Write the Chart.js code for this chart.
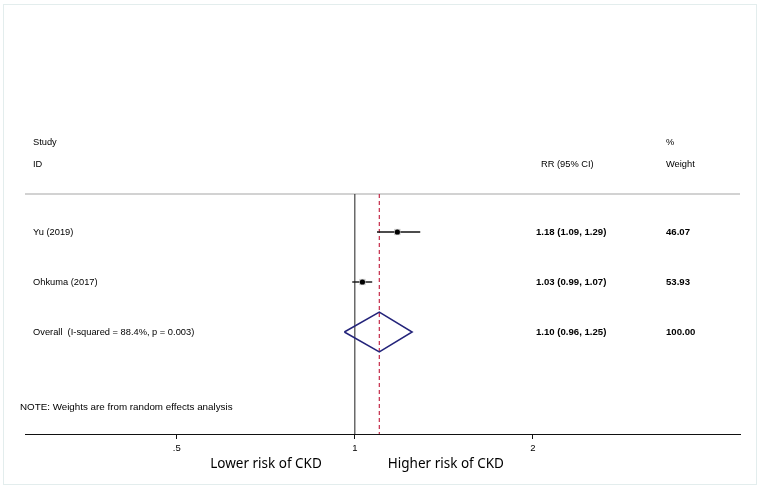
<!DOCTYPE html>
<html>
<head>
<meta charset="utf-8">
<script src="https://cdn.jsdelivr.net/npm/chart.js@4.4.1/dist/chart.umd.min.js"></script>
<style>
  html, body { margin: 0; padding: 0; background: #fff; }
  #wrap { position: relative; width: 760px; height: 488px; }
  #frame { position: absolute; left: 3px; top: 4px; right: 3px; bottom: 3px;
           border: 1px solid #e3eded; pointer-events: none; }
</style>
</head>
<body>
<div id="wrap">
  <canvas id="forest" width="760" height="488"></canvas>
  <div id="frame"></div>
</div>
<script>
// study rows
const studies = ['Yu (2019)', 'Ohkuma (2017)'];
const rr      = [1.18, 1.03];
const ciLow   = [1.09, 0.99];
const ciHigh  = [1.29, 1.07];
const ciText  = ['1.18 (1.09, 1.29)', '1.03 (0.99, 1.07)'];
const weights = ['46.07', '53.93'];

// pooled estimate
const overallLabel  = 'Overall  (I-squared = 88.4%, p = 0.003)';
const overallRR     = 1.10;
const overallLow    = 0.96;
const overallHigh   = 1.25;
const overallText   = '1.10 (0.96, 1.25)';
const overallWeight = '100.00';

// axis
const tickValues = [0.5, 1, 2];
const tickLabels = ['.5', '1', '2'];

// row layout (y units, top to bottom)
const studyRows  = studies.map((s, i) => i + 1);
const overallRow = studies.length + 1;
const headRow1 = -0.8, headRow2 = -0.36, dividerRow = 0.24, noteRow = 4.5;
const yMin = -2, yMax = 5.04;
const xMin = 0.277, xMax = 4.478;

const datasets = [];

// point estimates
datasets.push({
  data: rr.map((v, i) => ({ x: v, y: studyRows[i] })),
  showLine: false, pointStyle: 'circle', pointRadius: 2.6,
  pointBackgroundColor: '#000', pointBorderWidth: 0, order: 0
});
// weight boxes
datasets.push({
  data: rr.map((v, i) => ({ x: v, y: studyRows[i] })),
  showLine: false, pointStyle: 'rect', pointRadius: 4.4,
  pointBackgroundColor: '#c4c4c4', pointBorderWidth: 0, order: 1
});
// confidence intervals
studies.forEach((s, i) => {
  datasets.push({
    data: [{ x: ciLow[i], y: studyRows[i] }, { x: ciHigh[i], y: studyRows[i] }],
    showLine: true, borderColor: '#111', borderWidth: 1.4, pointRadius: 0, order: 2
  });
});
// overall diamond
datasets.push({
  data: [
    { x: overallLow, y: overallRow },
    { x: overallRR, y: overallRow - 0.4 },
    { x: overallHigh, y: overallRow },
    { x: overallRR, y: overallRow + 0.4 },
    { x: overallLow, y: overallRow }
  ],
  showLine: true, borderColor: '#23237a', borderWidth: 1.5, pointRadius: 0,
  tension: 0, order: 2
});
// null line
datasets.push({
  data: [{ x: 1, y: dividerRow }, { x: 1, y: yMax }],
  showLine: true, borderColor: '#333', borderWidth: 1.1, pointRadius: 0, order: 3
});
// overall effect line
datasets.push({
  data: [{ x: overallRR, y: dividerRow }, { x: overallRR, y: yMax }],
  showLine: true, borderColor: '#c42a48', borderWidth: 1.2, borderDash: [4, 3],
  pointRadius: 0, order: 3
});
// header divider
datasets.push({
  data: [{ x: xMin, y: dividerRow }, { x: xMax, y: dividerRow }],
  showLine: true, borderColor: '#d2d2d2', borderWidth: 2, pointRadius: 0, order: 4
});

const LEFT_X = 33, CI_X = 536, RRHEAD_X = 541, W_X = 666;

const tablePlugin = {
  id: 'forestTable',
  afterDraw(chart) {
    const ctx = chart.ctx;
    const ys = chart.scales.y, xs = chart.scales.x;
    const py = v => ys.getPixelForValue(v);
    ctx.save();
    ctx.fillStyle = '#000';
    ctx.textBaseline = 'middle';
    ctx.textAlign = 'left';

    ctx.font = '9.3px "Liberation Sans", Arial, sans-serif';
    ctx.fillText('Study', LEFT_X, py(headRow1));
    ctx.fillText('ID', LEFT_X, py(headRow2));
    ctx.fillText('RR (95% CI)', RRHEAD_X, py(headRow2));
    ctx.fillText('%', W_X, py(headRow1));
    ctx.fillText('Weight', W_X, py(headRow2));

    studies.forEach((s, i) => ctx.fillText(s, LEFT_X, py(studyRows[i])));
    ctx.fillText(overallLabel, LEFT_X, py(overallRow));

    ctx.font = 'bold 9.6px "Liberation Sans", Arial, sans-serif';
    ciText.forEach((t, i) => ctx.fillText(t, CI_X, py(studyRows[i])));
    weights.forEach((t, i) => ctx.fillText(t, W_X, py(studyRows[i])));
    ctx.fillText(overallText, CI_X, py(overallRow));
    ctx.fillText(overallWeight, W_X, py(overallRow));

    ctx.font = '9.8px "Liberation Sans", Arial, sans-serif';
    ctx.fillText('NOTE: Weights are from random effects analysis', 20, py(noteRow));

    // direction labels either side of the null line
    const x1 = xs.getPixelForValue(1);
    ctx.font = '13.5px "Noto Sans", "Open Sans", sans-serif';
    ctx.textAlign = 'right';
    ctx.fillText('Lower risk of CKD', x1 - 33, 464);
    ctx.textAlign = 'left';
    ctx.fillText('Higher risk of CKD', x1 + 33, 464);
    ctx.restore();
  }
};

new Chart(document.getElementById('forest'), {
  type: 'scatter',
  data: { datasets },
  plugins: [tablePlugin],
  options: {
    responsive: false,
    animation: false,
    layout: { padding: { left: 25, right: 20, top: 82, bottom: 0 } },
    plugins: { legend: { display: false }, tooltip: { enabled: false } },
    scales: {
      x: {
        type: 'logarithmic',
        min: xMin, max: xMax,
        afterBuildTicks: s => { s.ticks = tickValues.map(v => ({ value: v })); },
        afterFit: s => { s.height = 54; },
        ticks: {
          callback: (v, i) => tickLabels[i],
          color: '#000', padding: 4,
          font: { family: '"Liberation Sans", Arial, sans-serif', size: 9.5 },
          maxRotation: 0, autoSkip: false
        },
        grid: { drawOnChartArea: false, drawTicks: true, tickLength: 5, color: '#111' },
        border: { display: true, color: '#111', width: 1 }
      },
      y: {
        display: false, reverse: true, min: yMin, max: yMax
      }
    }
  }
});
</script>
</body>
</html>
